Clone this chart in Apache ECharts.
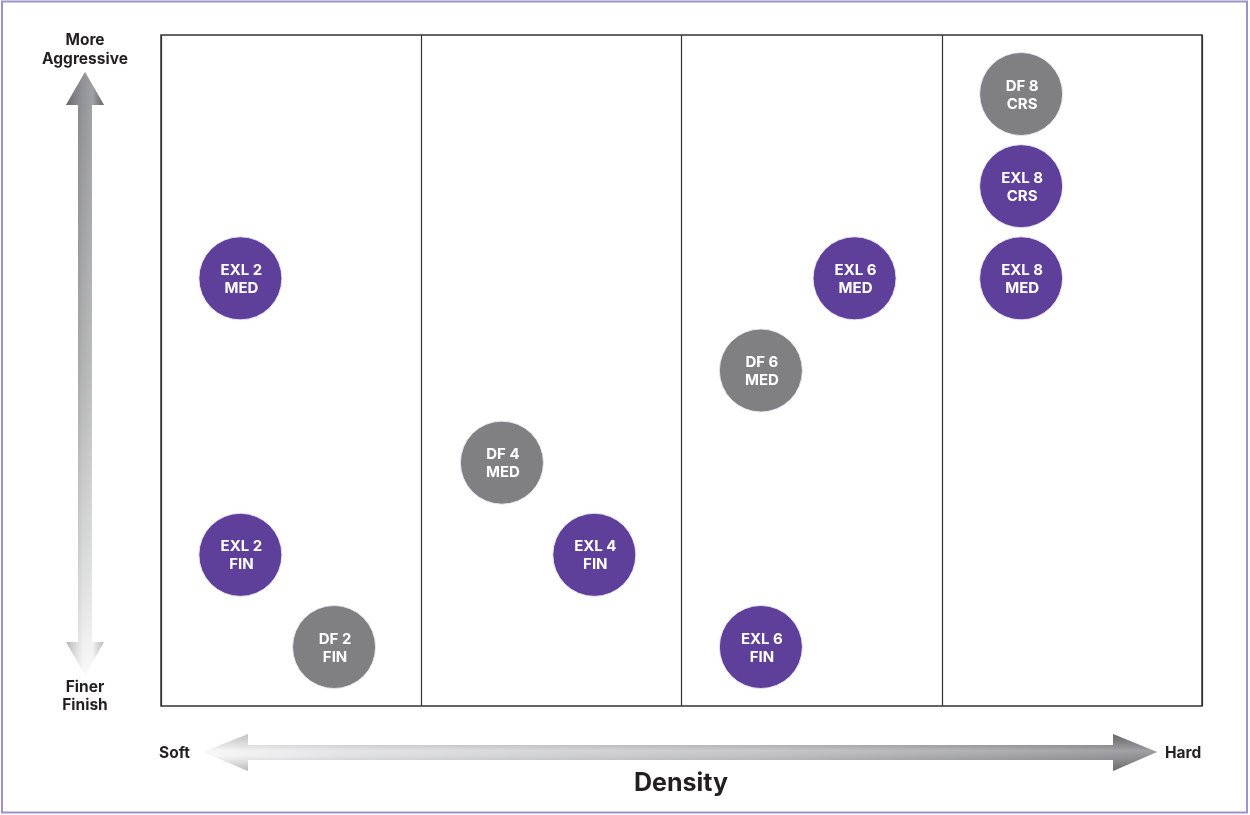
<!DOCTYPE html>
<html>
<head>
<meta charset="utf-8">
<style>
  html, body { margin: 0; padding: 0; background: #ffffff; }
  #chart { width: 1250px; height: 815px; }
</style>
<script src="https://cdn.jsdelivr.net/npm/echarts@6/dist/echarts.min.js"></script>
</head>
<body>
<div id="chart"></div>
<script>
// Abrasive grades: density column (x) and aggressiveness level (y)
const gradeNames = ['DF 8\nCRS', 'EXL 8\nCRS', 'EXL 8\nMED', 'EXL 6\nMED', 'EXL 2\nMED',
                    'DF 6\nMED', 'DF 4\nMED', 'EXL 2\nFIN', 'EXL 4\nFIN', 'DF 2\nFIN', 'EXL 6\nFIN'];
const densityPos = [3.305, 3.305, 3.305, 2.665, 0.305, 2.305, 1.31, 0.305, 1.665, 0.665, 2.305];
const aggressLevel = [7, 6, 5, 5, 5, 4, 3, 2, 2, 1, 1];
const gradeLine = ['DF', 'EXL', 'EXL', 'EXL', 'EXL', 'DF', 'DF', 'EXL', 'EXL', 'DF', 'EXL'];

const lineColors = { EXL: '#5e3f99', DF: '#808083' };
const ink = '#231f20';
const font = '"Inter", "Noto Sans", sans-serif';

const chart = echarts.init(document.getElementById('chart'), null, { renderer: 'canvas' });

const points = gradeNames.map((n, i) => ({
  name: n,
  value: [densityPos[i], aggressLevel[i]],
  itemStyle: { color: lineColors[gradeLine[i]] }
}));

// arrow outlines
const vArrow = [[85, 72], [104, 105], [92, 105], [92, 642], [104, 642], [85, 675],
                [66, 642], [78, 642], [78, 105], [66, 105]];
const hArrow = [[203, 752], [248, 734], [248, 745], [1113, 745], [1113, 734], [1157, 752],
                [1113, 771], [1113, 760], [248, 760], [248, 771]];

function lg(x, y, x2, y2, stops) {
  return new echarts.graphic.LinearGradient(x, y, x2, y2,
    stops.map(s => ({ offset: s[0], color: s[1] })));
}

const option = {
  backgroundColor: '#ffffff',
  animation: false,
  grid: { left: 161, top: 35, width: 1041, height: 671, show: true,
          borderColor: '#333333', borderWidth: 1.5, backgroundColor: 'transparent' },
  xAxis: {
    type: 'value', min: 0, max: 4, interval: 1,
    axisLine: { show: false }, axisTick: { show: false }, axisLabel: { show: false },
    splitLine: { show: true, lineStyle: { color: '#333333', width: 1.2 } }
  },
  yAxis: {
    type: 'value', min: 0.36, max: 7.64,
    axisLine: { show: false }, axisTick: { show: false }, axisLabel: { show: false },
    splitLine: { show: false }
  },
  series: [{
    type: 'scatter',
    symbol: 'circle',
    symbolSize: 83,
    data: points,
    itemStyle: { opacity: 1, borderColor: 'rgba(235,230,245,0.9)', borderWidth: 1 },
    emphasis: { disabled: true },
    label: {
      show: true, position: 'inside',
      formatter: p => p.name,
      color: '#ffffff', fontFamily: font, fontWeight: 'bold', fontSize: 15, lineHeight: 18,
      offset: [1, 1]
    }
  }],
  graphic: [
    // outer frame
    { type: 'rect', shape: { x: 2, y: 1.5, width: 1245, height: 811 },
      style: { fill: 'none', stroke: '#9d92c9', lineWidth: 2 }, silent: true },
    // vertical arrow
    { type: 'polygon', shape: { points: vArrow },
      style: { fill: lg(0, 0, 0, 1, [[0, '#6b6c70'], [0.5, '#9a9b9e'], [0.85, '#d4d5d7'], [1, '#f6f6f6']]) } },
    { type: 'polygon', shape: { points: vArrow },
      style: { fill: lg(0, 0, 1, 0, [[0, 'rgba(80,80,85,0.35)'], [0.45, 'rgba(255,255,255,0.25)'], [0.7, 'rgba(255,255,255,0.35)'], [1, 'rgba(80,80,85,0.3)']]) } },
    // horizontal arrow
    { type: 'polygon', shape: { points: hArrow },
      style: { fill: lg(0, 0, 1, 0, [[0, '#f4f4f4'], [0.15, '#d6d7d9'], [0.6, '#a8a9ac'], [1, '#6b6c70']]) } },
    { type: 'polygon', shape: { points: hArrow },
      style: { fill: lg(0, 0, 0, 1, [[0, 'rgba(80,80,85,0.25)'], [0.45, 'rgba(255,255,255,0.35)'], [0.6, 'rgba(255,255,255,0.25)'], [1, 'rgba(80,80,85,0.35)']]) } },
    // axis captions
    { type: 'text', position: [85, 31], style: { text: 'More\nAggressive', align: 'center', verticalAlign: 'top',
      fill: ink, font: 'bold 15.5px ' + font, lineHeight: 19 } },
    { type: 'text', position: [85, 678], style: { text: 'Finer\nFinish', align: 'center', verticalAlign: 'top',
      fill: ink, font: 'bold 15.5px ' + font, lineHeight: 18 } },
    { type: 'text', position: [159, 753], style: { text: 'Soft', align: 'left', verticalAlign: 'middle',
      fill: ink, font: 'bold 15.5px ' + font } },
    { type: 'text', position: [1165, 753], style: { text: 'Hard', align: 'left', verticalAlign: 'middle',
      fill: ink, font: 'bold 15.5px ' + font } },
    { type: 'text', position: [681, 783], style: { text: 'Density', align: 'center', verticalAlign: 'middle',
      fill: ink, font: 'bold 25px ' + font } }
  ]
};

chart.setOption(option);
</script>
</body>
</html>
